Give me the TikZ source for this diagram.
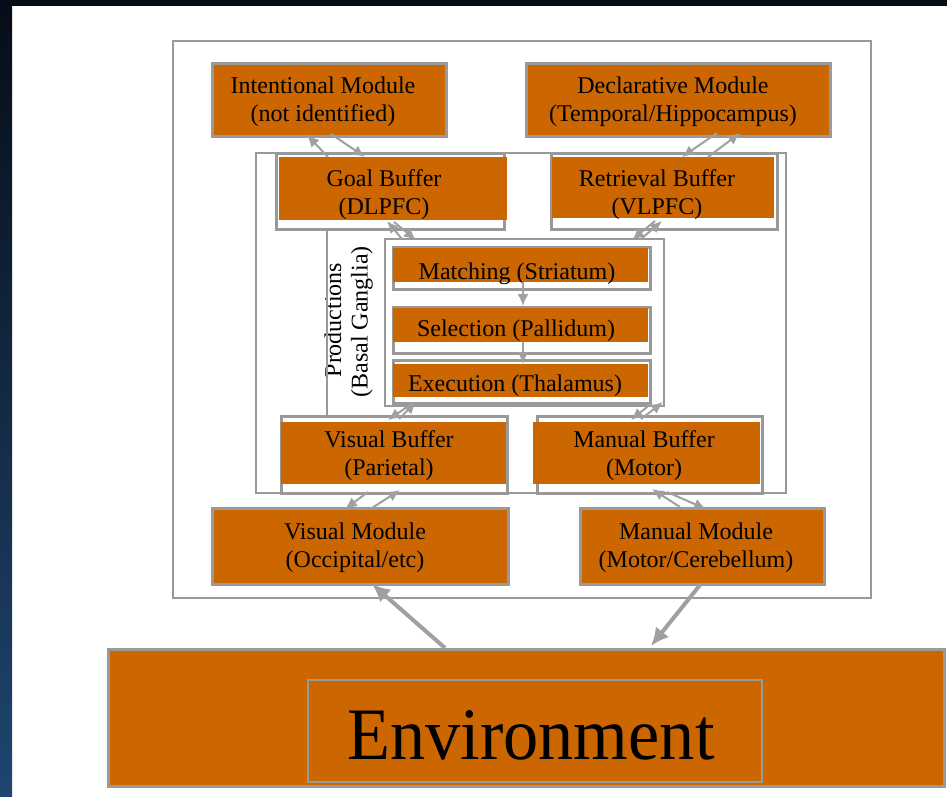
\documentclass[tikz,border=0pt]{standalone}
\usepackage{fontspec}
\setmainfont{Liberation Serif}
\usetikzlibrary{arrows.meta}
\definecolor{orng}{HTML}{CC6600}
\definecolor{gline}{HTML}{999999}
\definecolor{garr}{HTML}{A0A0A0}
\definecolor{bgtop}{HTML}{070D17}
\definecolor{bgbot}{HTML}{1F4670}
\begin{document}
\begin{tikzpicture}[x=1pt,y=-1pt,
  modbox/.style={draw=gline, line width=3pt, fill=orng, anchor=north west, inner sep=0pt},
  fillbox/.style={fill=orng, draw=none, anchor=north west, inner sep=0pt},
  framebox/.style={draw=gline, line width=3pt, fill=white, anchor=north west, inner sep=0pt},
  container/.style={draw=gline, line width=2pt, anchor=north west, inner sep=0pt},
  lbl/.style={font=\fontsize{24}{28}\selectfont, align=center, inner sep=0pt},
  arr/.style={draw=garr, line width=2pt, -{Latex[length=12pt,width=11pt]}},
  bigarr/.style={draw=garr, line width=4pt, -{Latex[length=18pt,width=17pt]}}
]
\useasboundingbox (0,0) rectangle (947,797);
\fill[white] (0,0) rectangle (947,797);
\shade[top color=bgtop, bottom color=bgbot] (0,0) rectangle (12,797);
\fill[bgtop] (0,0) rectangle (947,6);

% containers
\node[container, minimum width=698, minimum height=557] (outer) at (172,40) {};
\node[container, minimum width=530, minimum height=340] (bigbox) at (255,152) {};
\node[container, minimum width=279, minimum height=167] (prodbox) at (384,238) {};

% modules
\node[modbox, minimum width=234, minimum height=73] (intent) at (211,62) {};
\node[modbox, minimum width=304, minimum height=73] (decl) at (525,62) {};
\node[modbox, minimum width=296, minimum height=76] (vmod) at (211,507) {};
\node[modbox, minimum width=244, minimum height=76] (mmod) at (579,507) {};

% buffers
\node[framebox, minimum width=228, minimum height=76] (goalF) at (275,152) {};
\node[fillbox, minimum width=228, minimum height=63] (goal) at (279,157) {};
\node[framebox, minimum width=226, minimum height=76] (retrF) at (550,152) {};
\node[fillbox, minimum width=222, minimum height=61] (retr) at (552,157) {};
\node[framebox, minimum width=226, minimum height=77] (visF) at (280,415) {};
\node[fillbox, minimum width=225, minimum height=62] (vis) at (281,422) {};
\node[framebox, minimum width=225, minimum height=77] (manF) at (536,415) {};
\node[fillbox, minimum width=227, minimum height=62] (man) at (533,422) {};

% production stages
\node[framebox, minimum width=257, minimum height=42] (matchF) at (392,246) {};
\node[fillbox, minimum width=255, minimum height=34] (match) at (393,248) {};
\node[framebox, minimum width=257, minimum height=46] (selF) at (392,306) {};
\node[fillbox, minimum width=255, minimum height=34] (sel) at (393,308) {};
\node[framebox, minimum width=257, minimum height=43] (execF) at (392,359) {};
\node[fillbox, minimum width=255, minimum height=33] (exec) at (393,364) {};

% environment
\node[modbox, minimum width=836, minimum height=137] (env) at (107,648) {};
\node[draw=gline, line width=2pt, fill=orng, anchor=north west, inner sep=0pt,
      minimum width=454, minimum height=102] (envin) at (307,679) {};

% labels
\node[lbl] (intentT) at (323,102) {Intentional Module\\(not identified)};
\node[lbl] (declT) at (673,102) {Declarative Module\\(Temporal/Hippocampus)};
\node[lbl] (goalT) at (384,195) {Goal Buffer\\(DLPFC)};
\node[lbl] (retrT) at (657,195) {Retrieval Buffer\\(VLPFC)};
\node[lbl] (matchT) at (517,274) {Matching (Striatum)};
\node[lbl] (selT) at (516,331) {Selection (Pallidum)};
\node[lbl] (execT) at (515,386) {Execution (Thalamus)};
\node[lbl] (visT) at (389,456) {Visual Buffer\\(Parietal)};
\node[lbl] (manT) at (644,456) {Manual Buffer\\(Motor)};
\node[lbl] (vmodT) at (355,548) {Visual Module\\(Occipital/etc)};
\node[lbl] (mmodT) at (696,548) {Manual Module\\(Motor/Cerebellum)};
\node[lbl, rotate=90] (prodT) at (333,320) {Productions};
\node[lbl, rotate=90] (basalT) at (362,322) {(Basal Ganglia)};
\node[font=\fontsize{74}{80}\selectfont, inner sep=0pt] (envT) at (531,735) {\scalebox{0.95}[1]{Environment}};

% productions line
\draw[draw=gline, line width=2pt] (goalF.south -| 327,0) -- (visF.north -| 327,0);

% stage arrows
\draw[arr] (match.south -| 523,0) -- (selF.north -| 523,0);
\draw[arr] (sel.south -| 523,0) -- (exec.north -| 523,0);

% coordinate pairs
\coordinate (ig1) at (328,157); \coordinate (ig2) at (307,135);
\coordinate (ig3) at (331,134); \coordinate (ig4) at (365,157);
\coordinate (dr1) at (717,133); \coordinate (dr2) at (682,157);
\coordinate (dr3) at (708,157); \coordinate (dr4) at (740,133);
\coordinate (gp1) at (402,239); \coordinate (gp2) at (387,221);
\coordinate (gp3) at (394,222); \coordinate (gp4) at (416,240);
\coordinate (rp1) at (655,221); \coordinate (rp2) at (632,240);
\coordinate (rp3) at (641,239); \coordinate (rp4) at (662,221);
\coordinate (ev1) at (413,403); \coordinate (ev2) at (388,420);
\coordinate (ev3) at (399,419); \coordinate (ev4) at (416,402);
\coordinate (em1) at (652,403); \coordinate (em2) at (631,420);
\coordinate (em3) at (641,419); \coordinate (em4) at (663,402);
\coordinate (vv1) at (368,492); \coordinate (vv2) at (345,509);
\coordinate (vv3) at (372,508); \coordinate (vv4) at (400,490);
\coordinate (mm1) at (680,507); \coordinate (mm2) at (652,489);
\coordinate (mm3) at (667,492); \coordinate (mm4) at (706,509);
\coordinate (eu1) at (445,648); \coordinate (eu2) at (372,584);
\coordinate (ed1) at (700,585); \coordinate (ed2) at (651,646);

\draw[arr] (ig1) -- (ig2);
\draw[arr] (ig3) -- (ig4);
\draw[arr] (dr1) -- (dr2);
\draw[arr] (dr3) -- (dr4);
\draw[arr] (gp1) -- (gp2);
\draw[arr] (gp3) -- (gp4);
\draw[arr] (rp1) -- (rp2);
\draw[arr] (rp3) -- (rp4);
\draw[arr] (ev1) -- (ev2);
\draw[arr] (ev3) -- (ev4);
\draw[arr] (em1) -- (em2);
\draw[arr] (em3) -- (em4);
\draw[arr] (vv1) -- (vv2);
\draw[arr] (vv3) -- (vv4);
\draw[arr] (mm1) -- (mm2);
\draw[arr] (mm3) -- (mm4);
\draw[bigarr] (eu1) -- (eu2);
\draw[bigarr] (ed1) -- (ed2);
\end{tikzpicture}
\end{document}
